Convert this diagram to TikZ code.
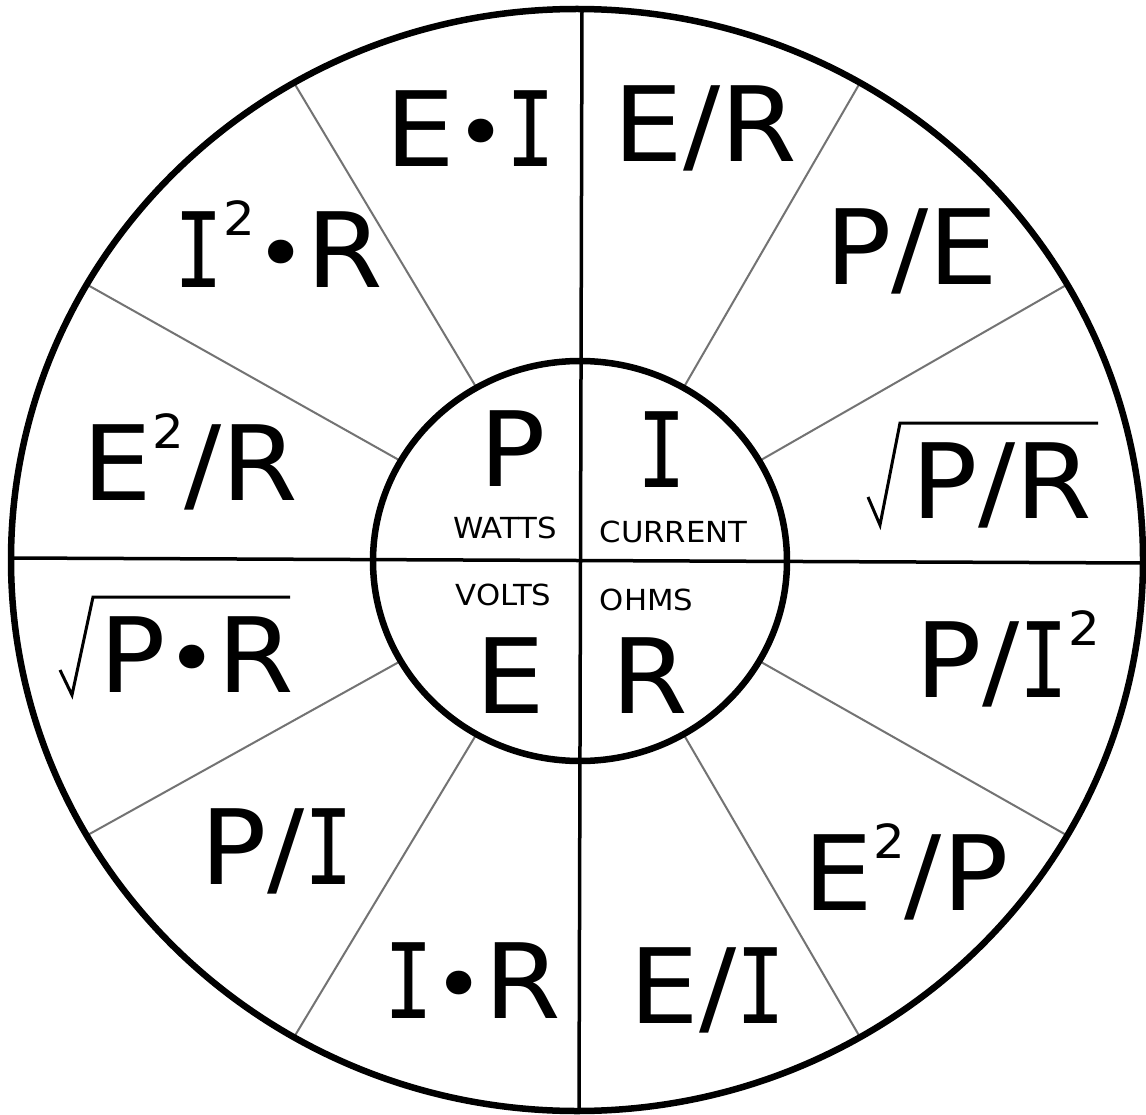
\documentclass[tikz,border=0pt]{standalone}
\usepackage{fontspec}
\setmainfont[FakeStretch=1.06]{DejaVu Sans}
\newfontfamily\serifIfont[FakeStretch=0.78]{DejaVu Sans Mono}
\newcommand{\Ii}{{\serifIfont I}}
\newcommand{\sqd}{\raisebox{52pt}{\fontsize{47}{47}\selectfont 2}}
\newcommand{\bul}{{\raisebox{5pt}{\fontsize{82}{82}\selectfont •}}}
\begin{document}
\begin{tikzpicture}[x=1pt,y=-1pt,
  big/.style={inner sep=0pt, anchor=base, font=\fontsize{104}{110}\selectfont},
  small/.style={inner sep=0pt, anchor=base, font=\fontsize{29}{32}\selectfont},
  spoke/.style={line width=2pt, draw=black!55},
  cross/.style={line width=3.5pt, draw=black},
  ring/.style={line width=6.5pt, draw=black},
  radical/.style={line width=3pt, draw=black, line join=miter}]
\useasboundingbox (0,0) rectangle (1146,1115);
\fill[white] (0,0) rectangle (1146,1115);
% spokes
\foreach \a in {30,60,120,150,210,240,300,330}{
  \draw[spoke] ({580+207*cos(\a)},{561-200*sin(\a)}) -- ({577+566*cos(\a)},{560-551*sin(\a)});
}
% cross lines
\coordinate (vt) at (582,10);
\coordinate (vb) at (579,1111);
\coordinate (hl) at (11,558);
\coordinate (hr) at (1143,563);
\draw[cross] (vt) -- (vb);
\draw[cross] (hl) -- (hr);
% circles
\draw[ring] (577,560) ellipse [x radius=566, y radius=551];
\draw[ring] (580,561) ellipse [x radius=207, y radius=200];
% inner labels
\node[big] (cP) at (513,486) {P};
\node[big] (cI) at (662,487) {\Ii};
\node[big] (cE) at (510,713) {E};
\node[big] (cR) at (650,713) {R};
\node[small] (watts) at (505,538) {WATTS};
\node[small] (current) at (673.5,542) {CURRENT};
\node[small] (volts) at (503.5,605) {VOLTS};
\node[small] (ohms) at (646.5,610) {OHMS};
% outer labels
\node[big] (ei) at (470.5,167) {E\bul\Ii};
\node[big] (i2r) at (279,288) {\Ii\sqd\bul R};
\node[big] (er) at (705.5,162) {E/R};
\node[big] (pe) at (912,285) {P/E};
\node[big] (e2r) at (190.5,500) {E\sqd/R};
\node[big] (spr) at (1002,518) {P/R};
\node[big] (sptr) at (197,692) {P\bul R};
\node[big] (pi2) at (1008,697) {P/\Ii\sqd};
\node[big] (pi) at (277,884) {P/\Ii};
\node[big] (ir) at (473,1018) {\Ii\bul R};
\node[big] (eoi) at (707.5,1023) {E/\Ii};
\node[big] (e2p) at (906,910) {E\sqd/P};
% radicals
\draw[radical] (868,497) -- (880,525) -- (900,423) -- (1098,423);
\draw[radical] (60,670) -- (72,695) -- (93,597) -- (290,597);
\end{tikzpicture}
\end{document}
